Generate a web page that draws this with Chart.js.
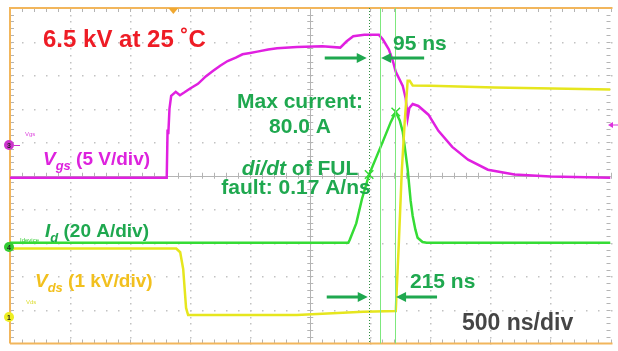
<!DOCTYPE html>
<html>
<head>
<meta charset="utf-8">
<script src="https://cdn.jsdelivr.net/npm/chart.js@4.4.0/dist/chart.umd.min.js"></script>
<style>
  html, body { margin: 0; padding: 0; background: #fff; overflow: hidden; }
</style>
</head>
<body>
<canvas id="scope" width="618" height="351"></canvas>
<script>
// time axis in ns, 500 ns/div, trigger at centre
var vgsTime = [-2500, -1195, -1188, -1182, -1172, -1158, -1120, -1085, -1050, -1000, -935, -870, -811, -750, -688, -620, -564, -500, -441, -350, -276, -111, 100, 250, 301, 358, 450, 572, 605, 655, 688, 712, 770, 795, 811, 825, 853, 900, 984, 1067, 1182, 1314, 1479, 1700, 2000, 2500];
var vgsVolt = [-5.3, -5.3, 1.9, 1.2, 5.0, 6.9, 7.5, 7.0, 7.4, 8.0, 8.7, 9.8, 10.6, 11.4, 12.1, 12.6, 13.1, 13.3, 13.5, 13.8, 14.0, 14.2, 14.3, 14.1, 15.0, 15.8, 16.0, 16.0, 15.3, 13.8, 12.1, 10.5, 8.4, 6.5, 3.6, 5.1, 5.7, 5.4, 4.1, 1.7, -0.7, -2.6, -4.1, -4.8, -5.1, -5.3];

var idTime = [-2500, 317, 330, 383, 430, 490, 605, 671, 712, 745, 770, 811, 836, 853, 875, 894, 935, 970, 2500];
var idAmp = [0, 0, 2, 11.6, 26, 40.7, 60.5, 72.1, 78, 73, 66.3, 44, 25, 16, 8, 3, 0.5, 0, 0];

var vdsTime = [-2500, -1116, -1083, -1058, -1034, -1017, -111, 441, 712, 737, 762, 786, 811, 828, 853, 1000, 1536, 2500];
var vdsKv = [1.83, 1.83, 1.72, 1.22, 0.06, -0.15, -0.15, -0.05, -0.03, 1.95, 4.13, 5.58, 6.83, 6.83, 6.69, 6.68, 6.63, 6.57];

var cursorTimes = [487, 582, 706];
var markTime = [490, 712];
var markAmp = [40.7, 78];

var green = '#1fa84f';

function pts(xs, ys) {
  return xs.map(function (x, i) { return { x: x, y: ys[i] }; });
}

var graticule = {
  id: 'graticule',
  beforeDatasetsDraw: function (chart) {
    var ctx = chart.ctx, a = chart.chartArea;
    var dx = (a.right - a.left) / 10, dy = (a.bottom - a.top) / 10;
    var cx = a.left + 5 * dx, cy = a.top + 5 * dy;
    ctx.save();
    // dotted grid
    ctx.fillStyle = '#c2c2c2';
    for (var i = 1; i < 10; i++) {
      if (i == 5) continue;
      var gx = a.left + i * dx, gy = a.top + i * dy;
      for (var k = 0; k <= 50; k++) {
        ctx.fillRect(Math.round(gx), Math.round(a.top + k * dy / 5), 1.5, 1.5);
        ctx.fillRect(Math.round(a.left + k * dx / 5), Math.round(gy), 1.5, 1.5);
      }
    }
    // centre axes with minor ticks
    ctx.strokeStyle = '#b4b4b4';
    ctx.lineWidth = 1;
    ctx.beginPath();
    ctx.moveTo(a.left, Math.round(cy) + 0.5); ctx.lineTo(a.right, Math.round(cy) + 0.5);
    ctx.moveTo(Math.round(cx) + 0.5, a.top); ctx.lineTo(Math.round(cx) + 0.5, a.bottom);
    for (var m = 0; m <= 50; m++) {
      var tx = Math.round(a.left + m * dx / 5) + 0.5, ty = Math.round(a.top + m * dy / 5) + 0.5;
      ctx.moveTo(tx, cy - 3); ctx.lineTo(tx, cy + 3);
      ctx.moveTo(cx - 3, ty); ctx.lineTo(cx + 3, ty);
      // border ticks
      ctx.moveTo(tx, a.top); ctx.lineTo(tx, a.top + 4);
      ctx.moveTo(tx, a.bottom); ctx.lineTo(tx, a.bottom - 4);
      ctx.moveTo(a.left, ty); ctx.lineTo(a.left + 4, ty);
      ctx.moveTo(a.right, ty); ctx.lineTo(a.right - 4, ty);
    }
    ctx.stroke();
    // orange frame
    ctx.strokeStyle = '#f2b65c';
    ctx.lineWidth = 2;
    ctx.beginPath();
    ctx.moveTo(a.left, a.bottom); ctx.lineTo(a.left, a.top); ctx.lineTo(a.right + 2, a.top);
    ctx.moveTo(a.left, a.bottom); ctx.lineTo(a.right + 2, a.bottom);
    ctx.stroke();
    // trigger position marker
    ctx.fillStyle = '#f0a830';
    var trig = chart.scales.x.getPixelForValue(-1140);
    ctx.beginPath();
    ctx.moveTo(trig - 5, a.top); ctx.lineTo(trig + 5, a.top); ctx.lineTo(trig, a.top + 6);
    ctx.fill();
    ctx.restore();
  }
};

function fontOf(p) {
  return (p[2] ? 'italic ' : '') + 'bold ' + p[1] + 'px "Liberation Sans", Arial, sans-serif';
}

function richText(ctx, x, y, parts, align) {
  var w = 0;
  parts.forEach(function (p) { ctx.font = fontOf(p); w += ctx.measureText(p[0]).width; });
  var px = align === 'center' ? x - w / 2 : x;
  parts.forEach(function (p) {
    ctx.font = fontOf(p);
    ctx.fillText(p[0], px, y + (p[3] ? p[1] * 0.35 : 0));
    px += ctx.measureText(p[0]).width;
  });
}

function arrow(ctx, x1, x2, y) {
  var dir = x2 > x1 ? 1 : -1;
  ctx.beginPath();
  ctx.moveTo(x1, y); ctx.lineTo(x2 - dir * 8, y);
  ctx.stroke();
  ctx.beginPath();
  ctx.moveTo(x2, y); ctx.lineTo(x2 - dir * 10, y - 5); ctx.lineTo(x2 - dir * 10, y + 5);
  ctx.closePath();
  ctx.fill();
}

function marker(ctx, x, y, col, label) {
  ctx.fillStyle = col;
  ctx.beginPath(); ctx.arc(x, y, 5, 0, Math.PI * 2); ctx.fill();
  ctx.fillStyle = '#222';
  ctx.font = 'bold 7px "Liberation Sans", sans-serif';
  ctx.textAlign = 'center';
  ctx.fillText(label, x, y + 2.5);
  ctx.textAlign = 'left';
}

var overlay = {
  id: 'overlay',
  afterDraw: function (chart) {
    var ctx = chart.ctx, a = chart.chartArea, xs = chart.scales.x;
    ctx.save();
    // cursors
    cursorTimes.forEach(function (t, i) {
      var px = Math.round(xs.getPixelForValue(t)) + 0.5;
      ctx.strokeStyle = i == 0 ? '#2f8f3f' : '#7de87d';
      ctx.lineWidth = 1;
      ctx.setLineDash(i == 0 ? [1, 2] : []);
      ctx.beginPath(); ctx.moveTo(px, a.top); ctx.lineTo(px, a.bottom); ctx.stroke();
    });
    ctx.setLineDash([]);
    var c0 = xs.getPixelForValue(cursorTimes[0]);
    var c1 = xs.getPixelForValue(cursorTimes[1]);
    var c2 = xs.getPixelForValue(cursorTimes[2]);
    ctx.strokeStyle = green; ctx.fillStyle = green; ctx.lineWidth = 3;
    arrow(ctx, c0 - 44, c0 - 2, 58);
    arrow(ctx, c1 + 44, c1 + 1, 58);
    arrow(ctx, c0 - 42, c0 - 1, 297);
    arrow(ctx, c2 + 42, c2 + 1, 297);

    ctx.textBaseline = 'alphabetic';
    ctx.fillStyle = '#ee1c25';
    richText(ctx, 43, 47, [['6.5 kV at 25 \u02daC', 24]]);
    ctx.fillStyle = '#dd22dd';
    richText(ctx, 43, 165, [['V', 19, true], ['gs', 13, true, true], [' (5 V/div)', 19]]);
    ctx.fillStyle = green;
    richText(ctx, 45, 237, [['I', 19, true], ['d', 13, true, true], [' (20 A/div)', 19]]);
    ctx.fillStyle = '#f2c01e';
    richText(ctx, 35, 287, [['V', 19, true], ['ds', 13, true, true], [' (1 kV/div)', 19]]);
    ctx.fillStyle = green;
    richText(ctx, 300, 108, [['Max current:', 21]], 'center');
    richText(ctx, 300, 133, [['80.0 A', 21]], 'center');
    richText(ctx, 300, 175, [['di/dt', 21, true], [' of FUL', 21]], 'center');
    richText(ctx, 296, 194, [['fault: 0.17 A/ns', 21]], 'center');
    richText(ctx, 393, 50, [['95 ns', 21]]);
    richText(ctx, 410, 288, [['215 ns', 21]]);
    ctx.fillStyle = '#454545';
    richText(ctx, 462, 330, [['500 ns/div', 23]]);

    // channel ground markers and tiny names
    marker(ctx, 9, 145, '#cc33cc', '3');
    marker(ctx, 9, 247, '#33cc33', '4');
    marker(ctx, 9, 317, '#eeee22', '1');
    ctx.font = '6px "Liberation Sans", sans-serif';
    ctx.fillStyle = '#dd44dd'; ctx.fillText('Vgs', 25, 136);
    ctx.fillStyle = '#33cc33'; ctx.fillText('Idevice', 20, 242);
    ctx.fillStyle = '#dddd33'; ctx.fillText('Vds', 26, 304);
    ctx.strokeStyle = '#cc33cc'; ctx.lineWidth = 1;
    ctx.beginPath(); ctx.moveTo(14, 145.5); ctx.lineTo(20, 145.5); ctx.stroke();
    // trigger level marker at right edge
    ctx.fillStyle = '#dd33dd';
    ctx.beginPath(); ctx.moveTo(608, 125); ctx.lineTo(613, 122); ctx.lineTo(613, 128); ctx.fill();
    ctx.fillRect(613, 124.5, 5, 1);
    ctx.restore();
  }
};

new Chart(document.getElementById('scope').getContext('2d'), {
  type: 'line',
  data: {
    datasets: [{
      label: 'Vds',
      data: pts(vdsTime, vdsKv),
      yAxisID: 'yVds',
      borderColor: '#e6e61e',
      borderWidth: 2.5,
      pointRadius: 0
    }, {
      label: 'Id',
      data: pts(idTime, idAmp),
      yAxisID: 'yId',
      borderColor: '#35dc35',
      borderWidth: 2.5,
      pointRadius: 0
    }, {
      label: 'Vgs',
      data: pts(vgsTime, vgsVolt),
      yAxisID: 'yVgs',
      borderColor: '#e020e0',
      borderWidth: 2.5,
      pointRadius: 0
    }, {
      label: 'marks',
      type: 'scatter',
      data: pts(markTime, markAmp),
      yAxisID: 'yId',
      pointStyle: 'crossRot',
      pointRadius: 6,
      borderColor: '#35dc35',
      borderWidth: 1.5
    }]
  },
  options: {
    responsive: false,
    devicePixelRatio: 1,
    animation: false,
    layout: { padding: { left: 10, right: 1, top: 8, bottom: 1 } },
    plugins: { legend: { display: false }, tooltip: { enabled: false } },
    scales: {
      x: { type: 'linear', min: -2500, max: 2500, display: false },
      yVgs: { min: -30, max: 20, display: false },
      yId: { min: -60, max: 140, display: false },
      yVds: { min: -1, max: 9, display: false }
    }
  },
  plugins: [graticule, overlay]
});
</script>
</body>
</html>
